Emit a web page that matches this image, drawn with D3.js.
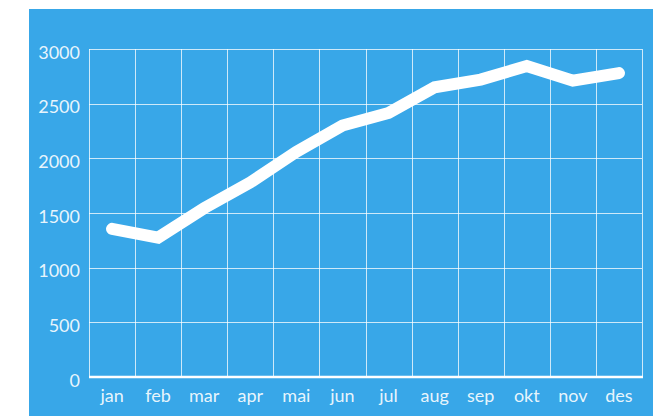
<!DOCTYPE html>
<html>
<head>
<meta charset="utf-8">
<script src="https://cdn.jsdelivr.net/npm/d3@7"></script>
<style>
  body { margin: 0; background: #fff; }
  svg { display: block; }
  text { font-family: "Lato", "Open Sans", sans-serif; }
</style>
</head>
<body>
<div id="chart"></div>
<script>
// Data
const months = ["jan", "feb", "mar", "apr", "mai", "jun", "jul", "aug", "sep", "okt", "nov", "des"];
const values = [1355, 1275, 1545, 1780, 2060, 2300, 2415, 2650, 2720, 2845, 2710, 2780];
const yTicks = [0, 500, 1000, 1500, 2000, 2500, 3000];

const W = 668, H = 416;
const margin = {top: 49, right: 26, bottom: 39, left: 89};

const svg = d3.select("#chart")
    .append("svg")
    .attr("width", W)
    .attr("height", H);

// Blue panel
svg.append("rect")
    .attr("x", 29)
    .attr("y", 9)
    .attr("width", 624)
    .attr("height", H)
    .attr("fill", "#38a7e8");

const x = d3.scaleBand()
    .domain(months)
    .range([margin.left, W - margin.right])
    .padding(0);

const y = d3.scaleLinear()
    .domain([0, 3000])
    .range([H - margin.bottom, margin.top]);

const gridColor = "rgba(255,255,255,0.75)";

// Horizontal grid
svg.append("g")
    .selectAll("line")
    .data(yTicks.slice(1))
    .join("line")
    .attr("x1", x.range()[0])
    .attr("x2", x.range()[1])
    .attr("y1", d => Math.round(y(d)) + 0.5)
    .attr("y2", d => Math.round(y(d)) + 0.5)
    .attr("stroke", gridColor)
    .attr("stroke-width", 1);

// Vertical grid at band edges
const edges = months.map(m => x(m)).concat([x.range()[1]]);
svg.append("g")
    .selectAll("line")
    .data(edges)
    .join("line")
    .attr("x1", d => Math.round(d) + 0.5)
    .attr("x2", d => Math.round(d) + 0.5)
    .attr("y1", y(3000))
    .attr("y2", y(0))
    .attr("stroke", gridColor)
    .attr("stroke-width", 1);

// Baseline
svg.append("line")
    .attr("x1", x.range()[0])
    .attr("x2", x.range()[1] + 1)
    .attr("y1", y(0))
    .attr("y2", y(0))
    .attr("stroke", "#fff")
    .attr("stroke-width", 2.5);

// Y labels
svg.append("g")
    .selectAll("text")
    .data(yTicks)
    .join("text")
    .attr("x", margin.left - 9)
    .attr("y", d => y(d) + 5)
    .attr("text-anchor", "end")
    .attr("dominant-baseline", "middle")
    .attr("font-size", 18)
    .attr("fill", "rgba(255,255,255,0.9)")
    .text(d => d);

// X labels
svg.append("g")
    .selectAll("text")
    .data(months)
    .join("text")
    .attr("x", d => x(d) + x.bandwidth() / 2)
    .attr("y", 402)
    .attr("text-anchor", "middle")
    .attr("font-size", 18)
    .attr("fill", "rgba(255,255,255,0.9)")
    .text(d => d);

// Line
const line = d3.line()
    .x((d, i) => x(months[i]) + x.bandwidth() / 2)
    .y(d => y(d));

svg.append("path")
    .datum(values)
    .attr("d", line)
    .attr("fill", "none")
    .attr("stroke", "#fff")
    .attr("stroke-width", 12)
    .attr("stroke-linecap", "round")
    .attr("stroke-linejoin", "miter");
</script>
</body>
</html>
